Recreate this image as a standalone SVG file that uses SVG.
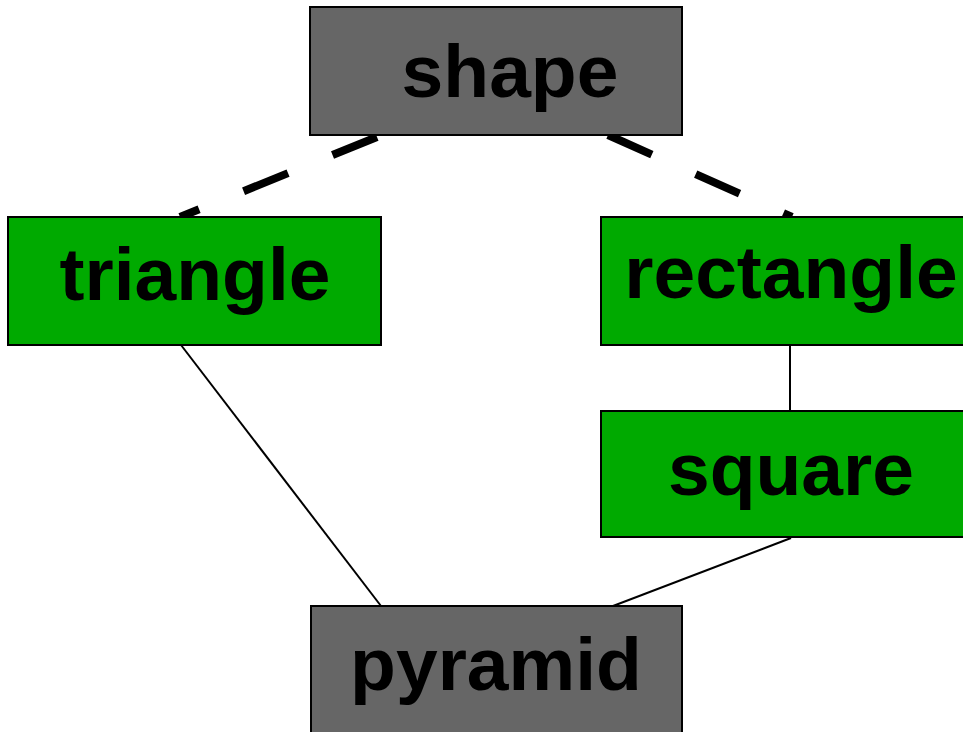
<svg xmlns="http://www.w3.org/2000/svg" width="963" height="732" viewBox="0 0 963 732">
<style>
.box{stroke:#000;stroke-width:2}
.gray{fill:#666666}
.green{fill:#00AA00}
.lbl{font-family:"Liberation Sans",Arial,sans-serif;font-weight:bold;font-size:75px;fill:#000;text-anchor:middle}
.thin{stroke:#000;stroke-width:2;fill:none}
.dash{stroke:#000;stroke-width:8;fill:none;stroke-dasharray:48 48}
</style>
<rect width="963" height="732" fill="#fff"/>
<g id="connectors">
<line class="dash" x1="377" y1="137" x2="180" y2="217"/>
<line class="dash" x1="608" y1="135" x2="792" y2="217"/>
<line class="thin" x1="181" y1="345" x2="381" y2="606"/>
<line class="thin" x1="790" y1="345" x2="790" y2="411"/>
<line class="thin" x1="791" y1="538" x2="613" y2="606"/>
</g>
<g id="shape">
<rect class="box gray" x="310" y="7" width="372" height="128"/>
<text class="lbl" x="510" y="97">shape</text>
</g>
<g id="triangle">
<rect class="box green" x="8" y="217" width="373" height="128"/>
<text class="lbl" x="195" y="300">triangle</text>
</g>
<g id="rectangle">
<rect class="box green" x="601" y="217" width="378" height="128"/>
<text class="lbl" x="791" y="298">rectangle</text>
</g>
<g id="square">
<rect class="box green" x="601" y="411" width="378" height="126"/>
<text class="lbl" x="791" y="495">square</text>
</g>
<g id="pyramid">
<rect class="box gray" x="311" y="606" width="371" height="130"/>
<text class="lbl" x="496" y="690">pyramid</text>
</g>
</svg>
